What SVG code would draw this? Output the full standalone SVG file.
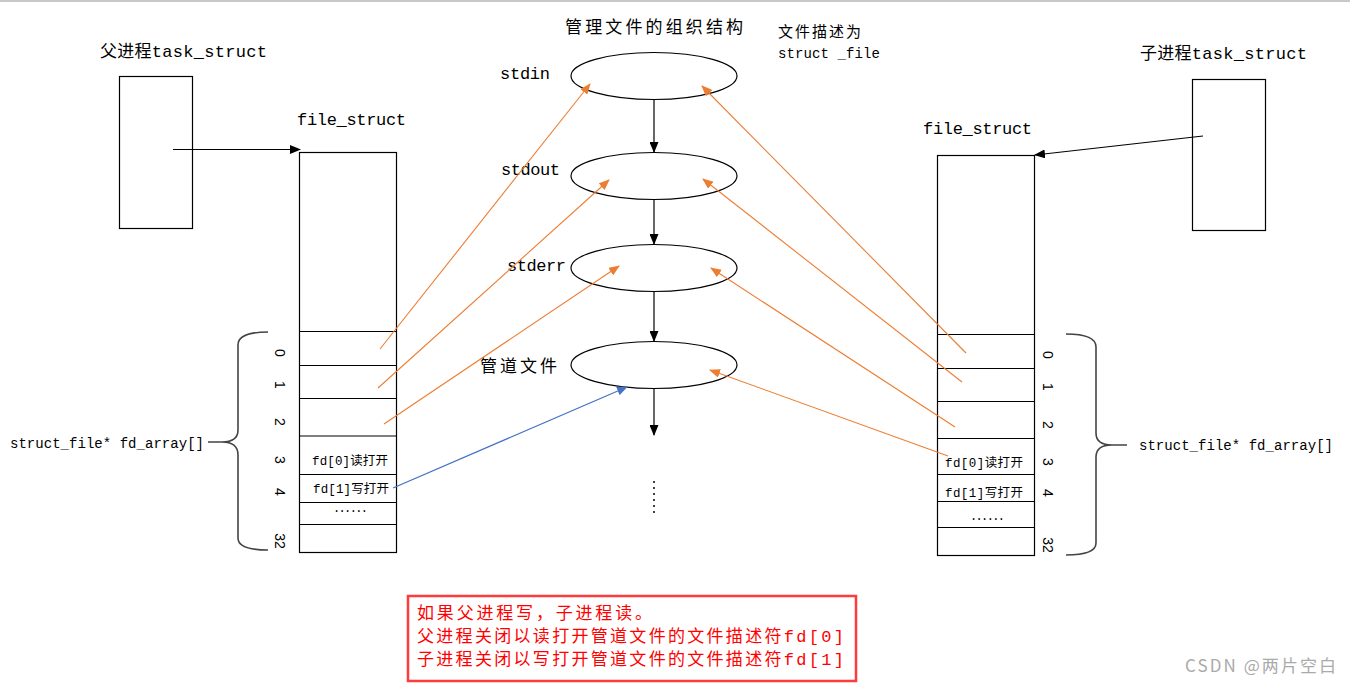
<svg xmlns="http://www.w3.org/2000/svg" width="1350" height="685" viewBox="0 0 1350 685">
<defs>
<style>
.t{font-family:"Liberation Mono","Noto Sans CJK SC",monospace;fill:#000}
.box{fill:#fff;stroke:#000;stroke-width:1.2}
.row{stroke:#000;stroke-width:1.2}
.blk{stroke:#000;stroke-width:1.2;fill:none}
.org{stroke:#ED7D31;stroke-width:1.1;fill:none}
.blu{stroke:#4472C4;stroke-width:1.2;fill:none}
.brace{stroke:#444;stroke-width:1.6;fill:none}
.idx{font-family:"Liberation Sans",sans-serif;font-size:14px;fill:#000}
.red{font-family:"Liberation Mono","Noto Sans CJK SC",monospace;font-size:17px;fill:#FF0000}
.dots{fill:#000}
</style>
<marker id="ab" markerUnits="userSpaceOnUse" markerWidth="11" markerHeight="9" refX="10" refY="4.5" orient="auto"><path d="M0,0 L11,4.5 L0,9 z" fill="#000"/></marker>
<marker id="ao" markerUnits="userSpaceOnUse" markerWidth="11" markerHeight="9" refX="10" refY="4.5" orient="auto"><path d="M0,0 L11,4.5 L0,9 z" fill="#ED7D31"/></marker>
<marker id="au" markerUnits="userSpaceOnUse" markerWidth="11" markerHeight="9" refX="10" refY="4.5" orient="auto"><path d="M0,0 L11,4.5 L0,9 z" fill="#4472C4"/></marker>
</defs>
<rect width="1350" height="685" fill="#fff"/>
<line x1="0" y1="1" x2="1350" y2="1" stroke="#c8c8c8" stroke-width="2"/>

<g id="parent-task">
<text class="t" x="100" y="57" font-size="17" textLength="167">父进程task_struct</text>
<rect class="box" x="119.5" y="76.5" width="73" height="152"/>
</g>

<g id="parent-files">
<text class="t" x="297" y="125" font-size="17" textLength="109">file_struct</text>
<rect class="box" x="299.5" y="152.5" width="97" height="400"/>
<line class="row" x1="299.5" y1="331.5" x2="396.5" y2="331.5"/>
<line class="row" x1="299.5" y1="365.5" x2="396.5" y2="365.5"/>
<line class="row" x1="299.5" y1="398.5" x2="396.5" y2="398.5"/>
<line class="row" x1="299.5" y1="436" x2="396.5" y2="436"/>
<line class="row" x1="299.5" y1="474.5" x2="396.5" y2="474.5"/>
<line class="row" x1="299.5" y1="502.5" x2="396.5" y2="502.5"/>
<line class="row" x1="299.5" y1="524.5" x2="396.5" y2="524.5"/>
<text class="t" x="312" y="465" font-size="12.5" textLength="76">fd[0]读打开</text>
<text class="t" x="313" y="493" font-size="12.5" textLength="76">fd[1]写打开</text>
<text class="t" x="333" y="512" font-size="12" textLength="35">......</text>
<text class="idx" transform="rotate(90 280 353)" x="280" y="358" text-anchor="middle">0</text>
<text class="idx" transform="rotate(90 280 385)" x="280" y="390" text-anchor="middle">1</text>
<text class="idx" transform="rotate(90 280 422)" x="280" y="427" text-anchor="middle">2</text>
<text class="idx" transform="rotate(90 280 460)" x="280" y="465" text-anchor="middle">3</text>
<text class="idx" transform="rotate(90 280 492)" x="280" y="497" text-anchor="middle">4</text>
<text class="idx" transform="rotate(90 280 541)" x="280" y="546" text-anchor="middle">32</text>
<path class="brace" d="M268,332 Q238,332 238,345 L238,430 Q238,442 222,442 Q238,442 238,455 L238,538 Q238,550 268,550 M208,442 L222,442"/>
<text class="t" x="10" y="448" font-size="14" textLength="194">struct_file* fd_array[]</text>
</g>

<g id="title">
<text class="t" x="565" y="33" font-size="17" textLength="178">管理文件的组织结构</text>
<text class="t" x="778" y="37" font-size="15" textLength="83">文件描述为</text>
<text class="t" x="778" y="58" font-size="14" textLength="102">struct _file</text>
</g>

<g id="stdin">
<ellipse class="box" cx="654" cy="76" rx="83" ry="23.5"/>
<text class="t" x="500" y="79" font-size="17" textLength="50">stdin</text>
</g>
<g id="stdout">
<ellipse class="box" cx="654" cy="176" rx="83" ry="23.5"/>
<text class="t" x="501" y="175" font-size="17" textLength="59">stdout</text>
</g>
<g id="stderr">
<ellipse class="box" cx="654" cy="268" rx="83" ry="23.5"/>
<text class="t" x="507" y="271" font-size="17" textLength="59">stderr</text>
</g>
<g id="pipe">
<ellipse class="box" cx="654" cy="365" rx="83" ry="23.5"/>
<text class="t" x="480" y="372" font-size="17" textLength="77">管道文件</text>
</g>
<g id="more">
<g class="dots">
<circle cx="654" cy="482" r="1"/><circle cx="654" cy="488" r="1"/><circle cx="654" cy="494" r="1"/><circle cx="654" cy="500" r="1"/><circle cx="654" cy="506" r="1"/><circle cx="654" cy="512" r="1"/>
</g>
</g>

<g id="child-task">
<text class="t" x="1140" y="59" font-size="17" textLength="167">子进程task_struct</text>
<rect class="box" x="1192.5" y="79.5" width="73" height="151"/>
</g>

<g id="child-files">
<text class="t" x="923" y="134" font-size="17" textLength="109">file_struct</text>
<rect class="box" x="937.5" y="155.5" width="97" height="400"/>
<line class="row" x1="937.5" y1="334.5" x2="1034.5" y2="334.5"/>
<line class="row" x1="937.5" y1="368.5" x2="1034.5" y2="368.5"/>
<line class="row" x1="937.5" y1="401.5" x2="1034.5" y2="401.5"/>
<line class="row" x1="937.5" y1="438.5" x2="1034.5" y2="438.5"/>
<line class="row" x1="937.5" y1="474.5" x2="1034.5" y2="474.5"/>
<line class="row" x1="937.5" y1="501.5" x2="1034.5" y2="501.5"/>
<line class="row" x1="937.5" y1="527.5" x2="1034.5" y2="527.5"/>
<text class="t" x="945" y="467" font-size="12.5" textLength="78">fd[0]读打开</text>
<text class="t" x="945" y="497" font-size="12.5" textLength="78">fd[1]写打开</text>
<text class="t" x="970" y="520" font-size="12" textLength="35">......</text>
<text class="idx" transform="rotate(90 1048 355)" x="1048" y="360" text-anchor="middle">0</text>
<text class="idx" transform="rotate(90 1048 387)" x="1048" y="392" text-anchor="middle">1</text>
<text class="idx" transform="rotate(90 1048 425)" x="1048" y="430" text-anchor="middle">2</text>
<text class="idx" transform="rotate(90 1048 462)" x="1048" y="467" text-anchor="middle">3</text>
<text class="idx" transform="rotate(90 1048 493)" x="1048" y="498" text-anchor="middle">4</text>
<text class="idx" transform="rotate(90 1048 545)" x="1048" y="550" text-anchor="middle">32</text>
<path class="brace" d="M1066,334 Q1096,334 1096,347 L1096,433 Q1096,445 1112,445 Q1096,445 1096,457 L1096,543 Q1096,555 1066,555 M1112,445 L1127,445"/>
<text class="t" x="1139" y="450" font-size="14" textLength="194">struct_file* fd_array[]</text>
</g>

<g id="note">
<rect x="408" y="596" width="448" height="85" fill="#fff" stroke="#FF3B3B" stroke-width="2.5"/>
<text class="red" x="417" y="619" textLength="235">如果父进程写，子进程读。</text>
<text class="red" x="417" y="642" textLength="427">父进程关闭以读打开管道文件的文件描述符fd[0]</text>
<text class="red" x="417" y="665" textLength="427">子进程关闭以写打开管道文件的文件描述符fd[1]</text>
</g>

<g id="watermark">
<text x="1185" y="672" font-family="'Noto Sans CJK SC','Noto Sans',sans-serif" font-size="17" fill="#aaaaaa" textLength="151">CSDN @两片空白</text>
</g>

<g id="connectors">
<line class="blk" x1="173" y1="149.5" x2="300" y2="149.5" marker-end="url(#ab)"/>
<line class="blk" x1="1203" y1="136" x2="1035" y2="155" marker-end="url(#ab)"/>
<line class="blk" x1="654" y1="100" x2="654" y2="152" marker-end="url(#ab)"/>
<line class="blk" x1="654" y1="200" x2="654" y2="244" marker-end="url(#ab)"/>
<line class="blk" x1="654" y1="292" x2="654" y2="341" marker-end="url(#ab)"/>
<line class="blk" x1="654" y1="389" x2="654" y2="435" marker-end="url(#ab)"/>
<line class="org" x1="380" y1="349" x2="590" y2="84" marker-end="url(#ao)"/>
<line class="org" x1="378" y1="388" x2="609" y2="180" marker-end="url(#ao)"/>
<line class="org" x1="384" y1="424" x2="619" y2="266" marker-end="url(#ao)"/>
<line class="blu" x1="393" y1="488" x2="627" y2="387" marker-end="url(#au)"/>
<line class="org" x1="966" y1="353" x2="702" y2="86" marker-end="url(#ao)"/>
<line class="org" x1="962" y1="382" x2="703" y2="179" marker-end="url(#ao)"/>
<line class="org" x1="955" y1="427" x2="711" y2="268" marker-end="url(#ao)"/>
<line class="org" x1="948" y1="456" x2="710" y2="370" marker-end="url(#ao)"/>
</g>
</svg>
